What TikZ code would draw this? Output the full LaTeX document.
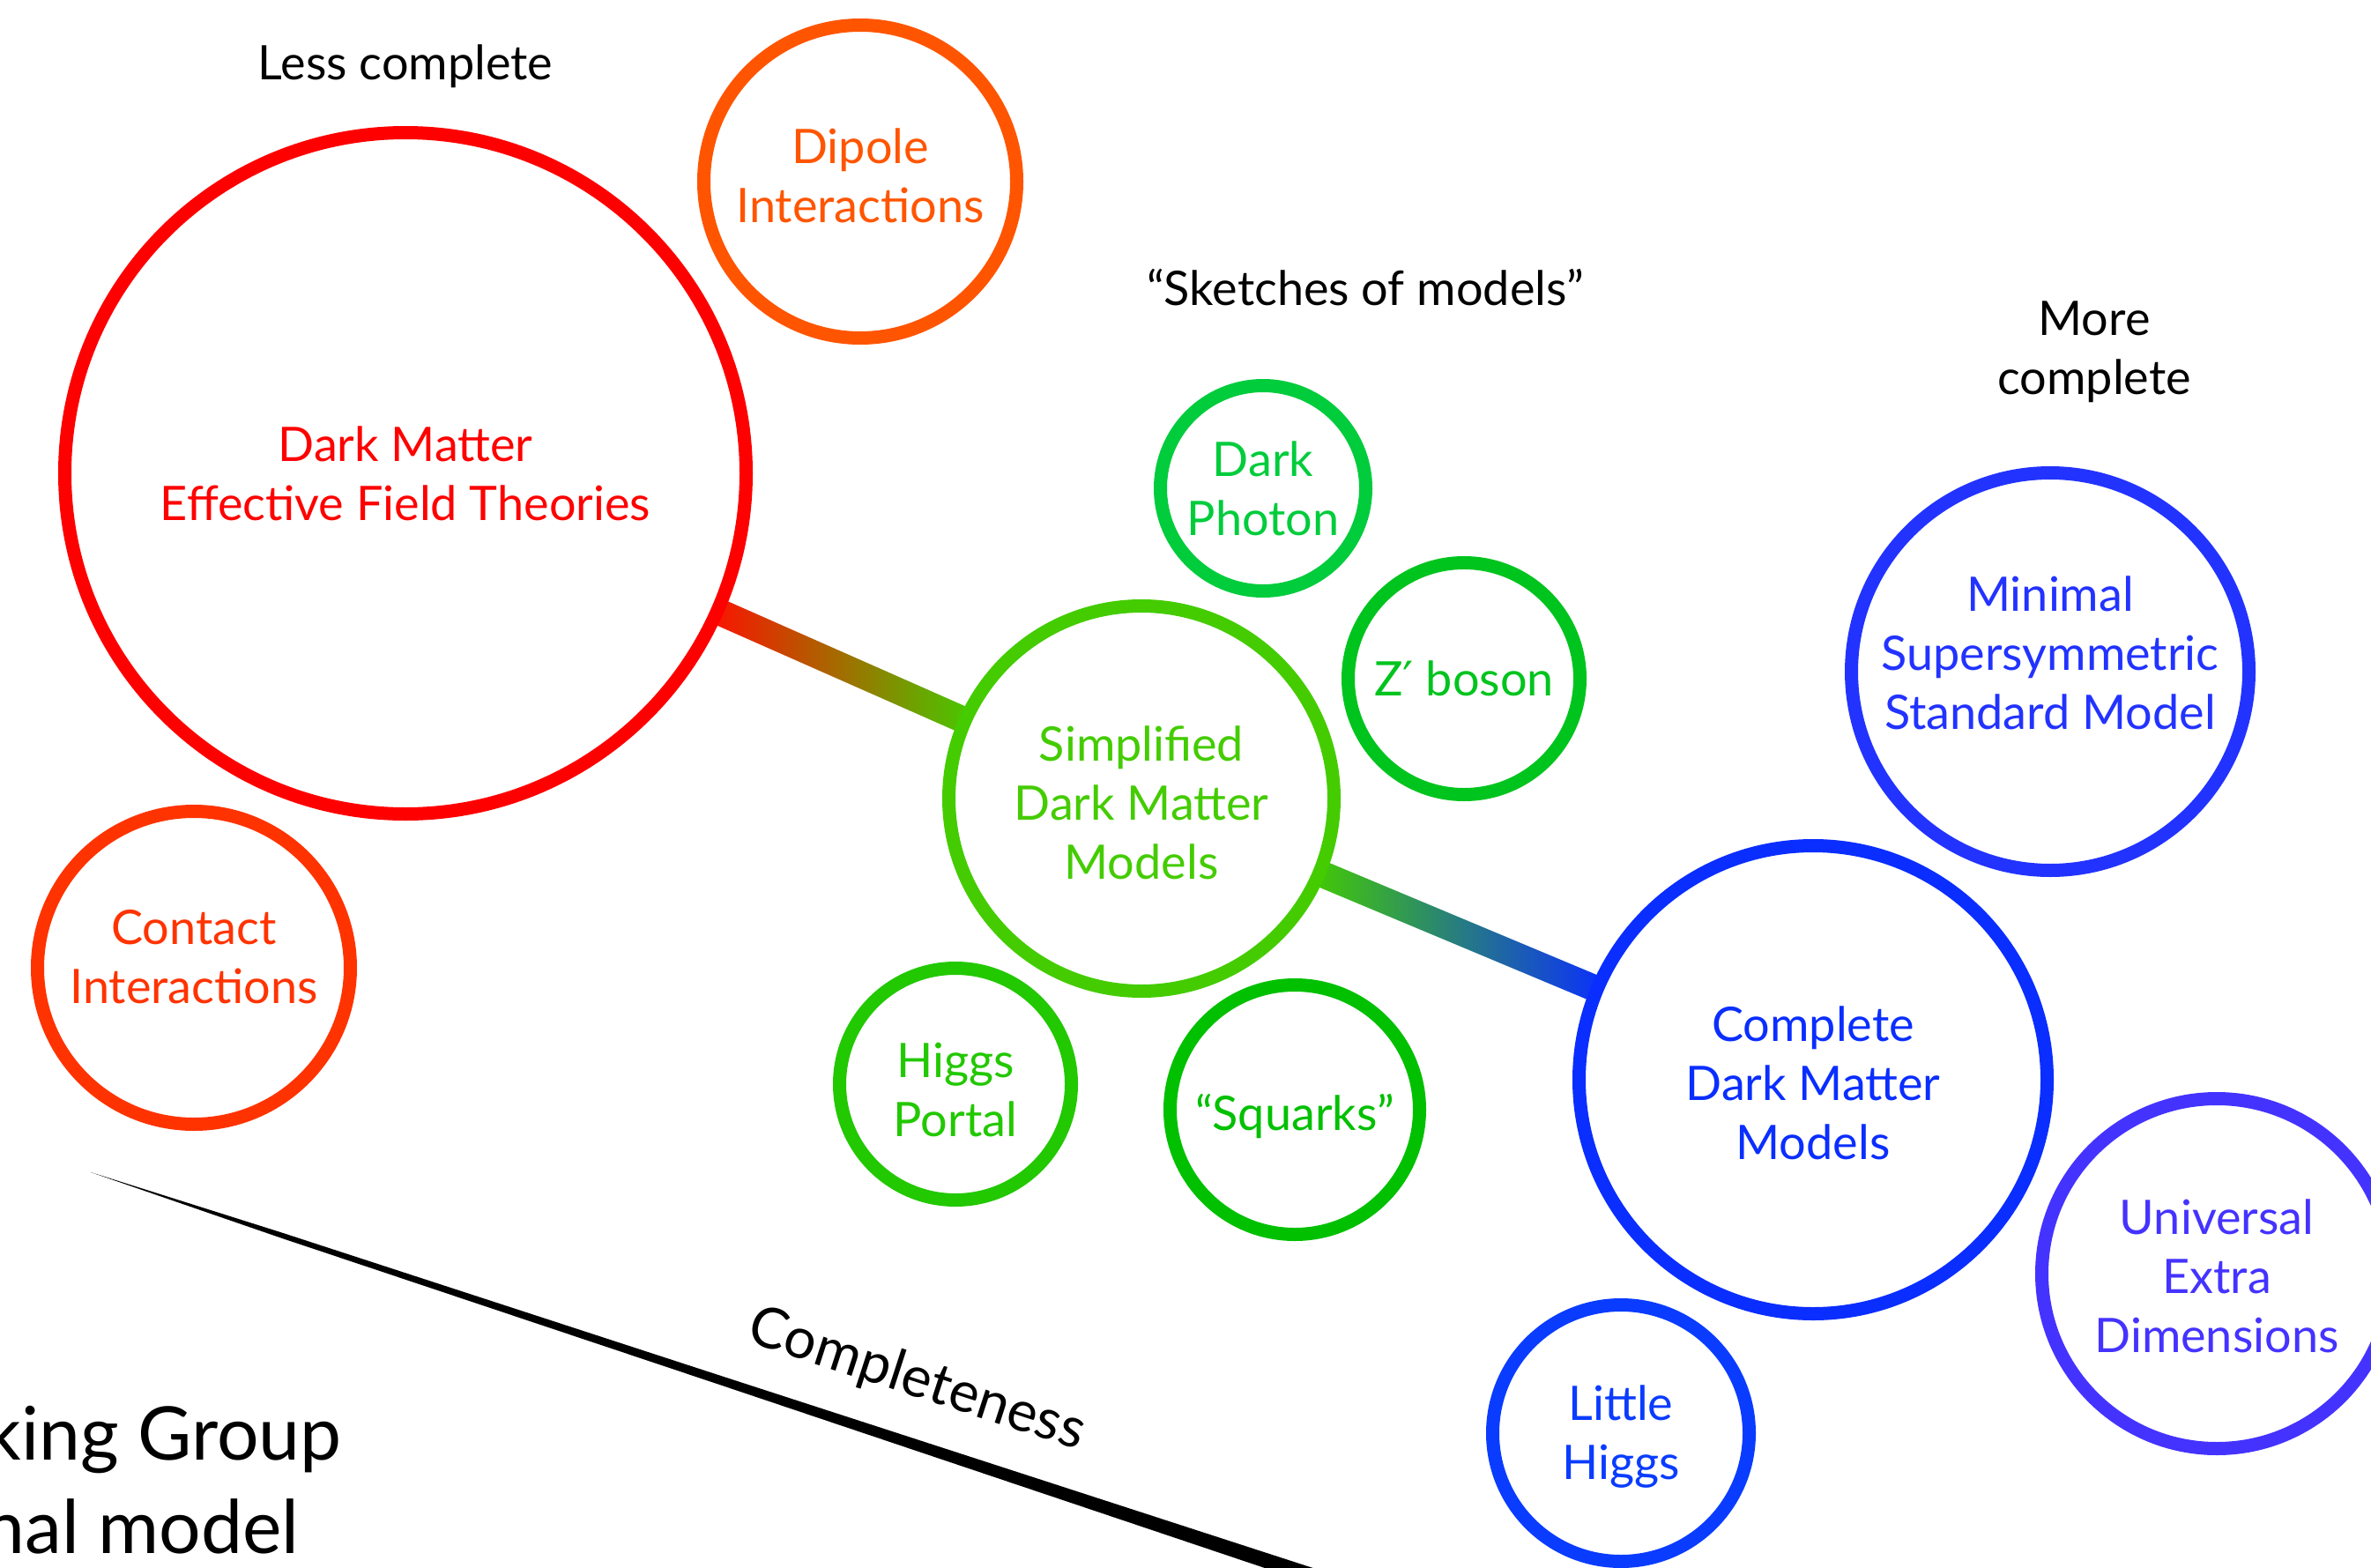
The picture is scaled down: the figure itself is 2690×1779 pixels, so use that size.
\documentclass[tikz,border=0pt]{standalone}
\usepackage{fontspec}
\setmainfont{Lato}
\newfontfamily\primefont{DejaVu Sans}
\usetikzlibrary{calc}
\pgfdeclarelayer{background}
\pgfsetlayers{background,main}
\definecolor{cEFT}{HTML}{FF0000}
\definecolor{cDip}{HTML}{FF5500}
\definecolor{cCon}{HTML}{FF3300}
\definecolor{cSim}{HTML}{44CC00}
\definecolor{cPho}{HTML}{00CC3C}
\definecolor{cZp}{HTML}{00C41E}
\definecolor{cHig}{HTML}{22C800}
\definecolor{cSqu}{HTML}{00C000}
\definecolor{cMSSM}{HTML}{2233FF}
\definecolor{cCom}{HTML}{0A2EFF}
\definecolor{cUED}{HTML}{4433FF}
\definecolor{cLit}{HTML}{0A3CFF}
\begin{document}
\begin{tikzpicture}[x=1pt,y=-1pt,
  bubble/.style={circle, draw=#1, line width=15pt, inner sep=0pt},
  btext/.style={text=#1, align=center, inner sep=0pt,
    font=\fontsize{54}{67}\selectfont},
  heading/.style={align=center, text=black, font=\fontsize{54}{67}\selectfont},
  slidetext/.style={anchor=base east, text=black, font=\fontsize{84}{100}\selectfont}]
\useasboundingbox (0,0) rectangle (2690,1779);
\begin{pgfonlayer}{background}
\fill[white] (0,0) rectangle (2690,1779);
\end{pgfonlayer}
\clip (0,0) rectangle (2690,1779);

% bubbles
\node[bubble=cEFT, minimum size=773pt] (eft) at (460,537) {};
\node[btext=cEFT] (eftT) at ($(eft)+(0,0)$) {Dark Matter\\Effective Field Theories};
\node[bubble=cDip, minimum size=355pt] (dip) at (976,206) {};
\node[btext=cDip] (dipT) at ($(dip)+(0,-7)$) {Dipole\\Interactions};
\node[bubble=cCon, minimum size=355pt] (con) at (220,1098) {};
\node[btext=cCon] (conT) at ($(con)+(0,-12)$) {Contact\\Interactions};
\node[bubble=cSim, minimum size=437pt] (sdm) at (1295,906) {};
\node[btext=cSim] (sdmT) at ($(sdm)+(0,5)$) {Simplified\\Dark Matter\\Models};
\node[bubble=cPho, minimum size=233pt] (pho) at (1433,554) {};
\node[btext=cPho] (phoT) at ($(pho)+(0,0)$) {Dark\\Photon};
\node[bubble=cZp, minimum size=263pt] (zp) at (1661,770) {};
\node[btext=cZp] (zpT) at ($(zp)+(0,0)$) {Z{\primefont ′} boson};
\node[bubble=cHig, minimum size=263pt] (hig) at (1084,1230) {};
\node[btext=cHig] (higT) at ($(hig)+(0,7)$) {Higgs\\Portal};
\node[bubble=cSqu, minimum size=283pt] (squ) at (1469,1259) {};
\node[btext=cSqu] (squT) at ($(squ)+(0,7)$) {``Squarks''};
\node[bubble=cMSSM, minimum size=451pt] (mssm) at (2326,762) {};
\node[btext=cMSSM] (mssmT) at ($(mssm)+(0,-21)$) {Minimal\\Supersymmetric\\Standard Model};
\node[bubble=cCom, minimum size=531pt] (cdm) at (2057,1225) {};
\node[btext=cCom] (cdmT) at ($(cdm)+(0,4)$) {Complete\\Dark Matter\\Models};
\node[bubble=cUED, minimum size=397pt] (ued) at (2515,1445) {};
\node[btext=cUED] (uedT) at ($(ued)+(0,3)$) {Universal\\Extra\\Dimensions};
\node[bubble=cLit, minimum size=291pt] (lit) at (1839,1626) {};
\node[btext=cLit] (litT) at ($(lit)+(0,4)$) {Little\\Higgs};

% headings
\node[heading] (less) at (460,75) {Less complete};
\node[heading] (sketch) at (1549,326) {``Sketches of models''};
\node[heading] (more) at (2376,399) {More\\complete};

% gradient connectors
\begin{pgfonlayer}{background}
\coordinate (a1) at ($(eft)!380pt!(sdm)$);
\coordinate (a2) at ($(sdm)!212pt!(eft)$);
\shade[left color=cEFT!88!orange, right color=cSim]
  ($(a1)!15pt!90:(a2)$) -- ($(a1)!15pt!-90:(a2)$) --
  ($(a2)!15pt!90:(a1)$) -- ($(a2)!15pt!-90:(a1)$) -- cycle;
\coordinate (b1) at ($(sdm)!212pt!(cdm)$);
\coordinate (b2) at ($(cdm)!259pt!(sdm)$);
\shade[left color=cSim, right color=cCom]
  ($(b1)!15pt!90:(b2)$) -- ($(b1)!15pt!-90:(b2)$) --
  ($(b2)!15pt!90:(b1)$) -- ($(b2)!15pt!-90:(b1)$) -- cycle;
\end{pgfonlayer}

% completeness axis
\fill[black] (103,1330) -- (317.9,1397.9) -- (818.1,1561.0) -- (1532.8,1793.0)
  -- (1527.2,1810.0) -- (814.9,1570.5) -- (316.1,1403.6) -- cycle;
\node[rotate=-18, text=black, font=\fontsize{64}{70}\selectfont] (compl) at (1040,1566) {Completeness};

% cut-off slide text
\node[slidetext] (wg) at (391,1656) {king Group};
\node[slidetext] (nm) at (343,1762) {nal model};
\end{tikzpicture}
\end{document}
